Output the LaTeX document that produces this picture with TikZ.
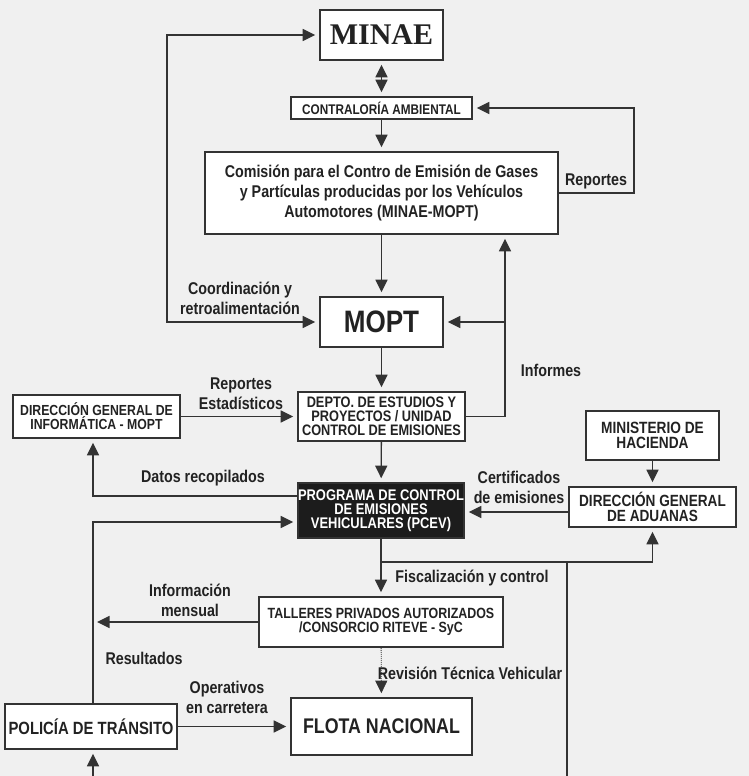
\documentclass[tikz,border=0pt]{standalone}
\usepackage{fontspec}
\setmainfont{Liberation Sans}[FakeStretch=0.84]
\newfontfamily\minaefont{Liberation Serif}
\usepackage{xcolor}
\usepackage{tikz}
\usetikzlibrary{arrows.meta}
\usetikzlibrary{calc}
\definecolor{bgc}{HTML}{F0F0F0}
\definecolor{linec}{HTML}{333333}
\definecolor{textc}{HTML}{222222}
\definecolor{pcevc}{HTML}{1C1C1C}
\newcommand{\orgfont}[2]{\fontsize{#1}{#2}\selectfont\bfseries}
\tikzset{ org_box/.style = {rectangle, draw=linec, fill=white, line width=1.6pt, align=center, inner sep=0pt, text=textc} }
\tikzset{ edge_lbl/.style = {align=center, inner sep=0pt, text=textc, font=\orgfont{17}{20}} }
\tikzset{ link/.style = {draw=linec, line width=1.3pt, shorten >=4pt} }
\tikzset{ plain_link/.style = {draw=linec, line width=1.3pt} }
\tikzset{ >={Triangle[length=12.5pt,width=12pt]} }

\begin{document}
\begin{tikzpicture}[x=1pt,y=-1pt]
    \fill[bgc] (0,0) rectangle (749,776);
    \useasboundingbox (0,0) rectangle (749,776);
        % boxes
        \node [style=org_box, minimum width=123, minimum height=50, font=\minaefont\orgfont{30}{30}] (minae) at (381.5,35) {MINAE};
        \node [style=org_box, minimum width=181, minimum height=22, font=\orgfont{14}{14}] (contra) at (381.5,108) {CONTRALORÍA AMBIENTAL};
        \node [style=org_box, minimum width=353, minimum height=82, font=\orgfont{17}{20}] (comision) at (381.5,193) {Comisión para el Contro de Emisión de Gases\\y Partículas producidas por los Vehículos\\Automotores (MINAE-MOPT)};
        \node [style=org_box, minimum width=123, minimum height=50, font=\orgfont{31}{32}] (mopt) at (381.5,322) {MOPT};
        \node [style=org_box, minimum width=167, minimum height=49, font=\orgfont{15.2}{14}] (depto) at (381.5,416.5) {DEPTO. DE ESTUDIOS Y\\PROYECTOS / UNIDAD\\CONTROL DE EMISIONES};
        \node [style=org_box, minimum width=167, minimum height=43, font=\orgfont{14.6}{13}] (dgi) at (96.5,416.5) {DIRECCIÓN GENERAL DE\\INFORMÁTICA - MOPT};
        \node [style=org_box, fill=pcevc, text=white, minimum width=166, minimum height=55, font=\orgfont{15.4}{14}] (pcev) at (381,510.5) {PROGRAMA DE CONTROL\\DE EMISIONES\\VEHICULARES (PCEV)};
        \node [style=org_box, minimum width=133, minimum height=49, font=\orgfont{16.3}{15}] (mh) at (652.5,435.5) {MINISTERIO DE\\HACIENDA};
        \node [style=org_box, minimum width=167, minimum height=40, font=\orgfont{16.2}{15}] (dga) at (652.5,507) {DIRECCIÓN GENERAL\\DE ADUANAS};
        \node [style=org_box, minimum width=244, minimum height=50, font=\orgfont{14.8}{14}] (talleres) at (381,622) {TALLERES PRIVADOS AUTORIZADOS\\/CONSORCIO RITEVE - SyC};
        \node [style=org_box, minimum width=181, minimum height=57, font=\orgfont{21.2}{22}] (flota) at (381.5,726.5) {FLOTA NACIONAL};
        \node [style=org_box, minimum width=172, minimum height=45, font=\orgfont{17.7}{18}] (policia) at (91,726.5) {POLICÍA DE TRÁNSITO};
        % bends
        \coordinate (coordx) at (167,0);
        \coordinate (repx) at (634,0);
        \coordinate (infx) at (505,0);
        \coordinate (polx) at (93,0);
        \coordinate (fork) at (381,562);
        \coordinate (trunk) at (567,776);
        \coordinate (polin) at (93,776);
        % connectors
        \draw[link,<->,shorten <=4pt] (minae.west) -- (minae.west -| coordx) -- (mopt.west -| coordx) -- (mopt.west);
        \draw[link,<->,shorten <=4pt] (minae) to (contra);
        \draw[link,->] (contra) to (comision);
        \draw[link,->] (comision.east) -- (comision.east -| repx) -- (contra.east -| repx) -- (contra.east);
        \draw[link,->] (comision) to (mopt);
        \draw[link,->] (depto.east) -- (depto.east -| infx) -- (comision.south -| infx);
        \draw[link,->] (mopt.east -| infx) -- (mopt.east);
        \draw[link,->] (mopt) to (depto);
        \draw[link,->] (dgi) to (depto);
        \draw[link,->] (depto) to (pcev);
        \draw[link,->] ([yshift=14.5pt]pcev.west) -| (dgi.south -| polx);
        \draw[link,->] (policia.north -| polx) |- ([yshift=-11.5pt]pcev.west);
        \draw[link,->] ([yshift=-5pt]dga.west) -- ([yshift=-5pt]dga.west -| pcev.east);
        \draw[link,->] (mh) to (dga);
        \draw[link,->] (pcev) to (talleres);
        \draw[link,->] (fork) -| (dga.south);
        \draw[plain_link] (fork -| trunk) -- (trunk);
        \draw[link,->] (talleres.west) -- (talleres.west -| polx);
        \draw[link,->,line width=0.8pt,dash pattern=on 1pt off 1pt] (talleres) to (flota);
        \draw[link,->] (policia) to (flota);
        \draw[link,->] (polin) -- (policia.south -| polx);
        % labels
        \node [style=edge_lbl] (coordlbl) at (240,298) {Coordinación y\\retroalimentación};
        \node [style=edge_lbl] (replbl) at (596,181) {Reportes};
        \node [style=edge_lbl] (inflbl) at (551,370) {Informes};
        \node [style=edge_lbl] (estlbl) at (241,394) {Reportes\\Estadísticos};
        \node [style=edge_lbl] (datlbl) at (203,478) {Datos recopilados};
        \node [style=edge_lbl] (certlbl) at (519,487.5) {Certificados\\de emisiones};
        \node [style=edge_lbl] (fisclbl) at (472,578) {Fiscalización y control};
        \node [style=edge_lbl] (infmlbl) at (190,600) {Información\\mensual};
        \node [style=edge_lbl] (reslbl) at (144,658) {Resultados};
        \node [style=edge_lbl] (revlbl) at (470,673) {Revisión Técnica Vehicular};
        \node [style=edge_lbl] (oplbl) at (227,697) {Operativos\\en carretera};
\end{tikzpicture}
\end{document}
